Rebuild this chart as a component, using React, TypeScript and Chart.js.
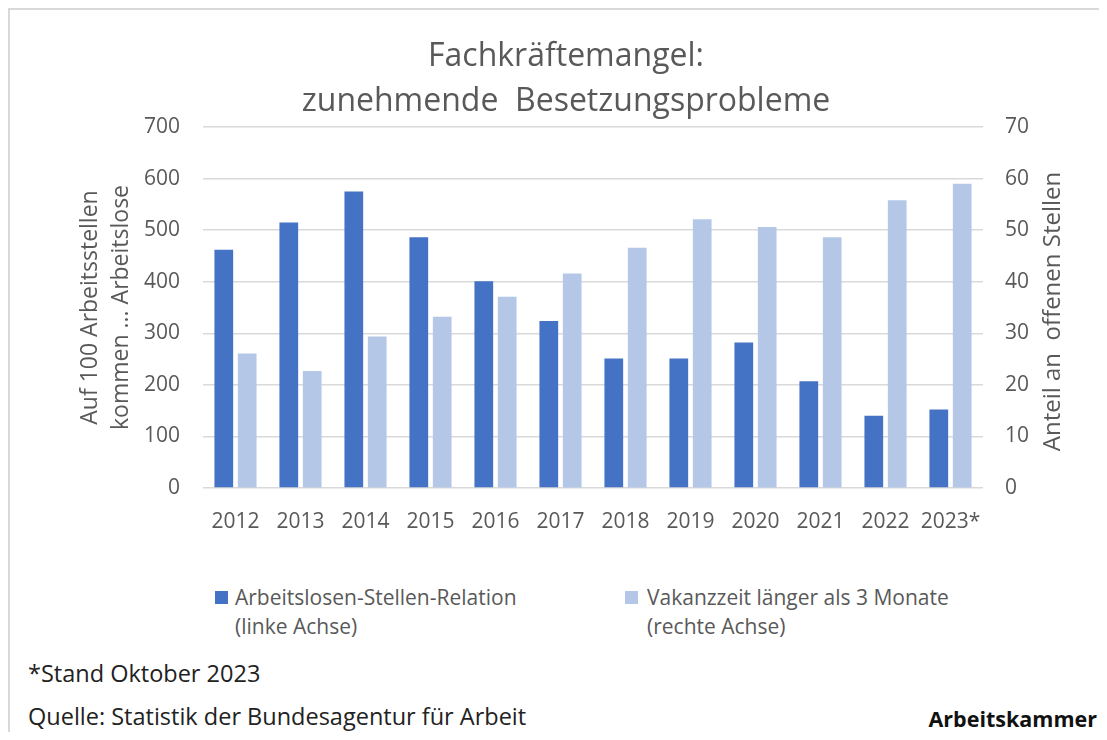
import React, { useEffect, useRef } from "react";
import { Chart, registerables } from "chart.js";

Chart.register(...registerables);

const years = ["2012", "2013", "2014", "2015", "2016", "2017", "2018", "2019", "2020", "2021", "2022", "2023*"];
const relationValues = [462, 515, 575, 486, 401, 324, 251, 251, 282, 207, 140, 152];
const vacancyValues = [26.1, 22.7, 29.4, 33.2, 37.1, 41.6, 46.6, 52.1, 50.6, 48.6, 55.8, 59.0];
const titleLines = ["Fachkräftemangel:", "zunehmende  Besetzungsprobleme"];
const leftAxisTitle = ["Auf 100 Arbeitsstellen", "kommen ... Arbeitslose"];
const rightAxisTitle = "Anteil an  offenen Stellen";
const legendItems = [
  { lines: ["Arbeitslosen-Stellen-Relation", "(linke Achse)"], color: "#4472C4" },
  { lines: ["Vakanzzeit länger als 3 Monate", "(rechte Achse)"], color: "#B4C7E7" },
];
const footnote = "*Stand Oktober 2023";
const source = "Quelle: Statistik der Bundesagentur für Arbeit";
const brand = "Arbeitskammer";

const FONT = "'Open Sans', 'Noto Sans', sans-serif";
const GREY = "#595959";

const rightTitlePlugin = {
  id: "rightTitle",
  afterDraw(chart: any) {
    const s = chart.scales.y1;
    const ctx = chart.ctx;
    ctx.save();
    ctx.translate(s.left + 70, (s.top + s.bottom) / 2 + 4);
    ctx.rotate(-Math.PI / 2);
    ctx.fillStyle = GREY;
    ctx.font = `24px ${FONT}`;
    ctx.textAlign = "center";
    ctx.textBaseline = "middle";
    ctx.fillText(rightAxisTitle, 0, 0);
    ctx.restore();
  },
};

export default function App() {
  const ref = useRef<HTMLCanvasElement>(null);

  useEffect(() => {
    if (!ref.current) return;
    const chart = new Chart(ref.current, {
      type: "bar",
      data: {
        labels: years,
        datasets: [
          {
            label: "Arbeitslosen-Stellen-Relation (linke Achse)",
            data: relationValues,
            backgroundColor: "#4472C4",
            yAxisID: "y",
            categoryPercentage: 0.72,
            barPercentage: 0.8,
          },
          {
            label: "Vakanzzeit länger als 3 Monate (rechte Achse)",
            data: vacancyValues,
            backgroundColor: "#B4C7E7",
            yAxisID: "y1",
            categoryPercentage: 0.72,
            barPercentage: 0.8,
          },
        ],
      },
      options: {
        responsive: false,
        maintainAspectRatio: false,
        animation: false,
        layout: { padding: { left: 17, right: 0, top: 0, bottom: 0 } },
        plugins: {
          legend: { display: false },
          tooltip: { enabled: false },
          title: {
            display: true,
            text: titleLines,
            color: GREY,
            font: { family: FONT, size: 32, weight: "normal", lineHeight: 45 / 32 },
            padding: { top: 26.5, bottom: 2.5 },
          },
        },
        scales: {
          x: {
            grid: { display: false },
            border: { display: false },
            ticks: { color: GREY, font: { family: FONT, size: 21 }, padding: 13, maxRotation: 0, autoSkip: false },
            afterFit: (s: any) => {
              s.height = 80;
            },
          },
          y: {
            position: "left",
            min: 0,
            max: 700,
            ticks: { stepSize: 100, color: GREY, font: { family: FONT, size: 21 }, padding: 23 },
            grid: { color: "#d9d9d9", lineWidth: 1.5, drawTicks: false },
            border: { display: false },
            title: {
              display: true,
              text: leftAxisTitle,
              color: GREY,
              font: { family: FONT, size: 23, lineHeight: 31 / 23 },
              padding: { top: 49.5, bottom: 0 },
            },
            afterFit: (s: any) => {
              s.width = 178;
            },
          },
          y1: {
            position: "right",
            min: 0,
            max: 70,
            ticks: { stepSize: 10, color: GREY, font: { family: FONT, size: 21 }, padding: 22 },
            grid: { drawOnChartArea: false, drawTicks: false },
            border: { display: false },
            afterFit: (s: any) => {
              s.width = 124;
            },
          },
        },
      },
      plugins: [rightTitlePlugin],
    });
    return () => chart.destroy();
  }, []);

  return (
    <div style={{ position: "relative", width: 1099, height: 724, overflow: "hidden", fontFamily: FONT }}>
      <div
        style={{
          position: "absolute",
          left: 0,
          top: 0,
          width: 1300,
          height: 900,
          borderLeft: "2px solid #d9d9d9",
          borderTop: "2px solid #d9d9d9",
          boxSizing: "border-box",
        }}
      />
      <canvas ref={ref} width={1099} height={560} style={{ position: "absolute", left: 0, top: 0, width: 1099, height: 560 }} />
      {legendItems.map((item, i) => (
        <div key={i} style={{ position: "absolute", left: i === 0 ? 207 : 617, top: 574.5, display: "flex", alignItems: "flex-start" }}>
          <div style={{ width: 13, height: 13, background: item.color, marginTop: 8, marginRight: i === 0 ? 7 : 9 }} />
          <div style={{ fontSize: 21, lineHeight: "29px", color: GREY }}>
            {item.lines.map((l, j) => (
              <div key={j}>{l}</div>
            ))}
          </div>
        </div>
      ))}
      <div style={{ position: "absolute", left: 20, top: 649, fontSize: 23.5, lineHeight: "32px", color: "#222" }}>{footnote}</div>
      <div style={{ position: "absolute", left: 20, top: 692, fontSize: 23.5, lineHeight: "32px", color: "#222" }}>{source}</div>
      <div style={{ position: "absolute", right: 10, top: 697, fontSize: 21.5, lineHeight: "28px", fontWeight: 700, color: "#111" }}>{brand}</div>
    </div>
  );
}
